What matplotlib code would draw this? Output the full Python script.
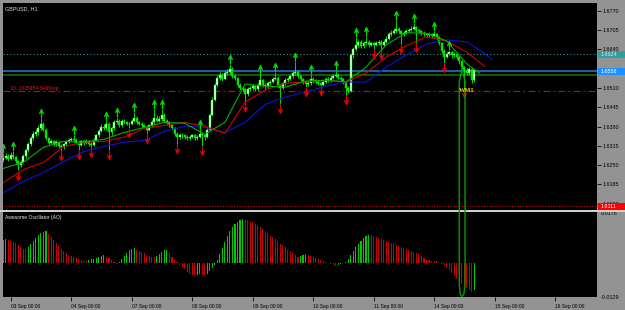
import numpy as np
import matplotlib
matplotlib.use('Agg')
import matplotlib.pyplot as plt
from matplotlib.path import Path
from matplotlib.patches import Rectangle

plt.rcParams['font.family'] = ['Liberation Sans', 'DejaVu Sans']

# GBPUSD H1, prices stored as pips above 1.6000
BASE = 1.6
first_open = 268
closes = [275, 282, 270, 284, 276, 265, 250,
          262, 280, 300, 320, 340, 355,
          360, 375, 390, 370,
          340, 325, 330, 320, 328, 315, 310,
          320, 330, 335, 338, 335,
          325, 318, 330, 325, 332, 322, 318,
          335, 350, 365, 380, 375, 390, 360,
          375, 395, 400, 385,
          400, 395, 390, 388, 398, 410,
          395, 390, 385, 380, 370,
          385, 395, 410, 400, 405, 420, 400,
          395, 385, 375, 355, 345, 350,
          352, 345, 340, 345, 350, 340, 345, 355, 350, 345,
          370, 420, 470, 520, 545,
          555, 540, 560, 565, 575, 550, 545,
          520, 510, 505, 490, 505, 510, 515, 505, 520, 535, 520,
          515, 525, 530, 540, 545, 520, 510,
          525, 535, 540, 550, 560, 565, 550, 540,
          530, 522, 525, 540, 535, 530, 525, 520,
          530, 540, 535, 545, 550, 555, 545, 540, 530,
          510, 500, 620,
          640, 655, 665, 650, 660, 665, 655,
          660, 655, 660, 665, 655, 665, 675,
          690, 695, 700, 710, 700, 690,
          695, 700, 705, 710, 715, 705, 700,
          695, 690, 688, 692, 685, 690, 682,
          660, 635, 615,
          625, 630, 620, 625, 615,
          600, 580, 570, 560, 575,
          535, 570]
highs = [292, 290, 286, 294, 296, 280, 268, 268, 286, 306,
         328, 348, 366, 372, 384, 410, 396, 374, 346, 338,
         336, 334, 332, 320, 326, 336, 342, 346, 350, 340,
         330, 334, 336, 338, 336, 328, 340, 356, 372, 388,
         390, 398, 394, 382, 402, 412, 404, 406, 404, 398,
         396, 404, 428, 414, 400, 394, 390, 384, 390, 402,
         440, 418, 414, 440, 424, 406, 398, 390, 380, 360,
         358, 358, 356, 350, 352, 356, 354, 352, 372, 360,
         354, 375, 426, 478, 528, 552, 565, 560, 568, 575,
         592, 580, 556, 548, 526, 516, 510, 512, 518, 522,
         520, 526, 556, 540, 526, 532, 538, 548, 564, 550,
         524, 530, 542, 548, 558, 568, 596, 570, 555, 545,
         534, 532, 556, 546, 540, 536, 530, 536, 546, 548,
         552, 558, 570, 560, 550, 544, 534, 515, 628, 648,
         682, 672, 670, 668, 684, 670, 666, 664, 668, 672,
         670, 672, 684, 698, 704, 712, 740, 716, 706, 702,
         708, 712, 718, 728, 720, 710, 704, 700, 696, 698,
         696, 702, 694, 686, 664, 640, 632, 638, 634, 630,
         628, 618, 604, 585, 576, 582, 578, 574]
lows = [262, 270, 265, 266, 270, 258, 232, 244, 256, 274,
        295, 314, 334, 348, 352, 368, 364, 334, 318, 320,
        314, 316, 308, 298, 306, 316, 326, 330, 328, 320,
        300, 314, 318, 320, 316, 308, 314, 330, 345, 360,
        368, 370, 300, 352, 370, 390, 380, 380, 388, 384,
        376, 384, 394, 390, 384, 378, 374, 356, 364, 380,
        390, 394, 396, 400, 394, 388, 378, 368, 348, 322,
        338, 342, 338, 334, 336, 340, 334, 336, 340, 314,
        336, 340, 365, 414, 465, 512, 538, 532, 535, 552,
        558, 545, 536, 512, 502, 495, 462, 484, 498, 504,
        498, 500, 515, 514, 508, 510, 520, 525, 535, 514,
        455, 505, 520, 530, 535, 545, 555, 545, 534, 524,
        514, 518, 520, 528, 524, 520, 515, 516, 526, 530,
        530, 540, 546, 540, 534, 522, 485, 492, 496, 612,
        635, 648, 644, 645, 655, 648, 650, 640, 650, 655,
        638, 650, 660, 670, 684, 690, 695, 694, 658, 684,
        690, 696, 700, 706, 660, 694, 688, 684, 682, 682,
        678, 680, 674, 654, 628, 594, 610, 620, 612, 614,
        606, 592, 572, 510, 552, 554, 528, 530]

up_fractals = [0, 4, 15, 28, 41, 45, 52, 60, 63, 78, 90, 102, 108, 116,
               122, 132, 140, 144, 156, 163, 171, 177]
down_fractals = [6, 23, 30, 35, 42, 50, 57, 69, 79, 96, 110, 120, 126,
                 136, 147, 150, 158, 164, 175, 183]

# alligator lines (already shifted forward)
lips_x = [0, 8, 16, 24, 32, 40, 48, 56, 64, 72, 80, 88, 96, 104, 112, 120,
          128, 136, 144, 152, 160, 168, 176, 184, 189]
lips = [239, 259, 310, 330, 327, 337, 360, 377, 394, 391, 354, 394, 523,
        516, 513, 533, 536, 530, 580, 655, 696, 694, 668, 591, 560]
teeth_x = [0, 8, 16, 24, 32, 40, 48, 56, 64, 72, 80, 88, 96, 104, 112, 120,
           128, 136, 144, 152, 160, 168, 176, 184, 191]
teeth = [191, 235, 259, 313, 327, 330, 344, 374, 384, 394, 381, 357, 462,
         503, 526, 530, 536, 530, 560, 614, 652, 682, 668, 630, 583]
jaw_x = [0, 8, 16, 24, 32, 40, 48, 56, 64, 72, 80, 88, 96, 104, 112, 120,
         128, 136, 144, 152, 160, 168, 176, 184, 190, 194]
jaw = [157, 195, 225, 262, 296, 313, 327, 333, 364, 381, 377, 360, 394,
       455, 479, 496, 516, 530, 530, 580, 621, 658, 672, 665, 632, 606]

# bad tick spike near the end
spike_x = [182.1, 181.0, 181.0, 181.4, 182.1, 182.8, 183.3, 183.3, 182.1]
spike = [575, 530, -150, -185, -192, -185, -150, 530, 575]

# horizontal levels
level_teal = 1.6624
level_bid = 1.6566
bid_text = '1.6558'
level_green = 1.6553
level_order = 1.6500
level_stop = 1.6111

# Awesome Oscillator, in units of 0.0001
ao = [84, 87,
      84, 80, 76, 73, 66, 58, 51, 49,
      58, 69, 80, 91, 102, 109, 113, 116,
      106, 95, 84, 73, 62, 51, 44, 36, 29, 25, 22, 18, 15, 11, 7, 5,
      11, 13, 15, 18, 22, 25, 27,
      22, 18, 11, 4, -4,
      4, 15, 25, 36, 46, 51, 53,
      47, 44, 40, 35, 29, 25, 22, 20,
      25, 33, 40, 46, 47,
      36, 22, 11, 4,
      -7, -15, -22, -33, -40, -44, -46,
      -44, -42,
      -44, -46,
      -40, -29, -18, -7,
      11, 33, 55, 76, 98, 116, 131, 142, 149, 157, 160,
      157, 154, 150, 147, 141, 137, 129, 122, 116, 108, 99, 93, 85, 78,
      70, 63, 56, 48, 41, 34, 28, 22,
      25, 29, 31,
      29, 25, 22, 18, 15, 11,
      7, 4, 0, -4, -7, -11,
      -9, -5, -2,
      4, 15, 29, 44, 58, 69, 80, 91, 98, 102,
      100, 98, 95, 91, 87, 84, 80, 76, 73, 69, 66, 62, 58, 55, 51, 47,
      44, 40, 36, 33, 25, 18,
      11, 9, 7, 6, 5, 4,
      -3, -9, -18, -27, -36, -49, -58, -69, -76, -86, -93, -100, -106, -98]
ao_top_label = '0.0178'
ao_bottom_label = '-0.0129'

day_ticks = [3 + 24 * k for k in range(10)]
day_labels = ['03 Sep 00:00', '04 Sep 00:00', '07 Sep 00:00', '08 Sep 00:00',
              '09 Sep 00:00', '10 Sep 00:00', '11 Sep 00:00', '14 Sep 00:00',
              '15 Sep 00:00', '16 Sep 00:00']
# 1.6575 sits under the bid box, so it is not shown
price_ticks = [1.6770, 1.6705, 1.6640, 1.6510, 1.6445, 1.6380,
               1.6315, 1.6250, 1.6185, 1.6120]

W, H = 625, 310
GRAY = '#939393'
fig = plt.figure(figsize=(W / 100, H / 100), dpi=100, facecolor=GRAY)
ax = fig.add_axes([3 / W, 1 - 210 / H, 594 / W, 207 / H], facecolor='black')
ax2 = fig.add_axes([3 / W, 1 - 297 / H, 594 / W, 85 / H], facecolor='black')
ax.set_zorder(2)
fig.add_artist(Rectangle((0, 1 - 212 / H), 1, 2 / H, transform=fig.transFigure,
                         fc='#cfcfcf', ec='none', zorder=1))

for a in (ax, ax2):
    a.set_xlim(-0.06, 235.66)
    for s in a.spines.values():
        s.set_visible(False)

# candles
c = BASE + np.array(closes) / 1e4
o = BASE + np.array([first_open] + closes[:-1]) / 1e4
h = BASE + np.array(highs) / 1e4
l = BASE + np.array(lows) / 1e4
x = np.arange(len(closes))
bull = c >= o
ax.vlines(x, l, h, color='#00ff00', lw=0.6, zorder=3)
ax.bar(x[bull], (c - o)[bull], bottom=o[bull], width=0.78, color='#d8ffd8',
       edgecolor='#00ff00', linewidth=0.3, zorder=4)
ax.bar(x[~bull], (c - o)[~bull], bottom=o[~bull], width=0.78, color='#00e000',
       edgecolor='#00ff00', linewidth=0.3, zorder=4)

# alligator
ax.plot(jaw_x, BASE + np.array(jaw) / 1e4, color='#1010e0', lw=0.8, zorder=5)
ax.plot(teeth_x, BASE + np.array(teeth) / 1e4, color='#d00000', lw=0.8, zorder=5)
ax.plot(lips_x, BASE + np.array(lips) / 1e4, color='#00b000', lw=0.8, zorder=5)

# fractals
up_arrow = Path([(-0.45, -0.1), (0, 0.9), (0.45, -0.1), (-0.25, 0.35), (0.25, 0.35),
                 (0, 0.35), (0, -1.0)],
                [Path.MOVETO, Path.LINETO, Path.LINETO, Path.MOVETO, Path.LINETO,
                 Path.MOVETO, Path.LINETO])
down_arrow = Path([(vx, -vy) for vx, vy in up_arrow.vertices], up_arrow.codes)
ax.plot(up_fractals, h[up_fractals] + 0.0017, ls='none', marker=up_arrow, ms=6.5,
        mfc='none', mec='#00d800', mew=0.9, zorder=6)
ax.plot(down_fractals, l[down_fractals] - 0.0017, ls='none', marker=down_arrow, ms=6.5,
        mfc='none', mec='#e00000', mew=0.9, zorder=6)

ax.plot(spike_x, BASE + np.array(spike) / 1e4, color='#00a000', lw=1.0,
        clip_on=False, zorder=7)

# levels
ax.axhline(level_teal, color='#2aa3a3', lw=0.8, ls=(0, (1, 2)), zorder=2)
ax.axhline(level_bid, color='#1f5fa8', lw=1.4, zorder=2)
ax.axhline(level_green, color='#0b5d0b', lw=1.4, zorder=2)
ax.axhline(level_order, color='#e00000', lw=0.8, ls=(0, (6, 3, 1.5, 3)), zorder=2)
ax.axhline(level_stop, color='#d00000', lw=0.8, ls=(0, (1, 1.5)), zorder=2)

ax.set_ylim(1.60990, 1.67959)
ax.yaxis.tick_right()
ax.set_yticks(price_ticks)
ax.set_yticklabels(['%.4f' % p for p in price_ticks])
ax.tick_params(axis='y', length=3, width=0.6, color='black', labelsize=3.9,
               pad=1, labelcolor='black')
ax.tick_params(axis='x', bottom=False, labelbottom=False)

# price boxes on the axis
ytr = ax.get_yaxis_transform()
box_h = 7 / 2969
for val, txt, fc, tc in [(level_teal, '%.4f' % level_teal, '#2f9e9e', '#e8e8e8'),
                         (level_bid, bid_text, '#1e90ff', 'white'),
                         (level_stop, '%.4f' % level_stop, '#ff0000', 'white')]:
    ax.add_patch(Rectangle((1.0017, val - box_h / 2), 0.0455, box_h, transform=ytr,
                           fc=fc, ec='none', clip_on=False, zorder=8))
    ax.text(1.0065, val, txt, transform=ytr, fontsize=3.9, color=tc, va='center',
            ha='left', clip_on=False, zorder=9)

ax.text(0.0035, 0.974, 'GBPUSD, H1', transform=ax.transAxes, fontsize=3.9,
        color='#dcdcdc', va='center', ha='left')
ax.text(3.0, level_order + 0.0009, 'ID: 1025454 SellStop', fontsize=3.6,
        color='#ff1010', va='center', ha='left')
ax.text(181.0, level_order + 0.0003, 'WM1', fontsize=4.6, color='#f0e000',
        family='Liberation Serif', weight='bold', va='center', ha='left', zorder=9)

# oscillator
ao_v = np.array(ao) / 1e4
rising = np.r_[True, ao_v[1:] > ao_v[:-1]]
ax2.bar(x, ao_v, width=0.42, color=np.where(rising, '#00c800', '#c80000'))
ax2.set_ylim(-0.0125, 0.0185)
ax2.set_yticks([])
ax2.set_xticks(day_ticks)
ax2.set_xticklabels(day_labels, ha='left')
ax2.tick_params(axis='x', length=3, width=0.6, color='black', labelsize=3.5,
                pad=2, labelcolor='black')
ytr2 = ax2.get_yaxis_transform()
ax2.text(1.006, 0.0178, ao_top_label, transform=ytr2, fontsize=3.9, color='black',
         va='center', ha='left', clip_on=False)
ax2.text(1.006, -0.0128, ao_bottom_label, transform=ytr2, fontsize=3.9, color='black',
         va='center', ha='left', clip_on=False)
ax2.text(0.0035, 0.94, 'Awesome Oscillator (AO)', transform=ax2.transAxes,
         fontsize=3.6, color='#e8e8e8', va='center', ha='left')

fig.savefig('out.png', dpi=100, facecolor=GRAY)
